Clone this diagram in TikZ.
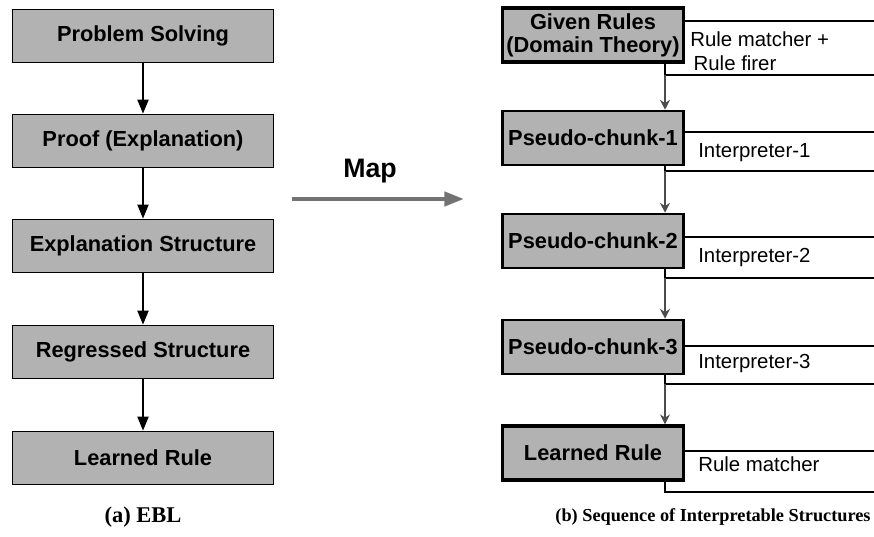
\documentclass[tikz,border=0pt]{standalone}
\usepackage{fontspec}
\setmainfont{Liberation Serif}
\setsansfont{Liberation Sans}
\usetikzlibrary{arrows.meta}

\begin{document}
\begin{tikzpicture}[x=0.025cm, y=-0.025cm,
		stage/.style={rectangle, draw=black, line width=1.3pt, fill=black!30, minimum width=261*0.025cm, minimum height=53*0.025cm, inner sep=0pt, align=center, font=\sffamily\bfseries\fontsize{15.5}{17}\selectfont},
		chunk/.style={rectangle, draw=black, line width=1.8pt, fill=black!30, minimum width=181*0.025cm, minimum height=54*0.025cm, inner sep=0pt, align=center, font=\sffamily\bfseries\fontsize{15.5}{16.5}\selectfont},
		flow/.style={-{Triangle[length=10pt, width=8pt]}, line width=1.1pt},
		step flow/.style={-{Stealth[length=7pt, width=7pt]}, line width=1.8pt, black!70},
		bracket/.style={line width=0.8pt},
		role/.style={anchor=west, align=left, inner sep=0pt, font=\sffamily\fontsize{14.5}{17}\selectfont},
		caption/.style={font=\bfseries\fontsize{13}{15}\selectfont}
		]
		\useasboundingbox (0,0) rectangle (874,537);
		
		% (a) EBL
		\node[stage] (ps) at (143,36) {Problem Solving};
		\node[stage] (proof) at (143,141) {Proof (Explanation)};
		\node[stage] (expl) at (143,246) {Explanation Structure};
		\node[stage] (regr) at (143,352) {Regressed Structure};
		\node[stage] (learnA) at (143,458) {Learned Rule};
		
		\draw[flow] (ps) -- (proof);
		\draw[flow] (proof) -- (expl);
		\draw[flow] (expl) -- (regr);
		\draw[flow] (regr) -- (learnA);
		
		\node[caption, font=\bfseries\fontsize{16}{18}\selectfont] (capA) at (143,517) {(a) EBL};
		
		% map arrow
		\coordinate (mapA) at (292,199);
		\coordinate (mapB) at (464,199);
		\draw[-{Triangle[length=14pt, width=10pt]}, line width=3pt, black!55] (mapA) -- (mapB);
		\node[font=\sffamily\bfseries\fontsize{19}{21}\selectfont] (map) at (370,171) {Map};
		
		% (b) interpretable structures
		\node[chunk, line width=2.4pt] (given) at (593,35) {Given Rules\\(Domain Theory)};
		\node[chunk] (pc1) at (593,138) {Pseudo-chunk-1};
		\node[chunk] (pc2) at (593,241) {Pseudo-chunk-2};
		\node[chunk] (pc3) at (593,347) {Pseudo-chunk-3};
		\node[chunk, line width=2.4pt] (learnB) at (593,453) {Learned Rule};
		
		\foreach \n/\t/\b in {given/21/75, pc1/132/171, pc2/237/278, pc3/346/384, learnB/451/492} {
			\draw[bracket] (\n.east |- 0,\t) -- (874,\t);
			\draw[bracket] (665,0 |- \n.south) -- (665,\b) -- (874,\b);
			\coordinate (\n-out) at (665,\b);
		}
		
		\foreach \a/\b in {given/pc1, pc1/pc2, pc2/pc3, pc3/learnB} {
			\draw[step flow] (\a-out) -- (\b.north -| \a-out);
		}
		
		\node[role] (r0) at (690,51) {Rule matcher +\\\,Rule firer};
		\node[role] (r1) at (698,153) {Interpreter-1};
		\node[role] (r2) at (698,257) {Interpreter-2};
		\node[role] (r3) at (698,363) {Interpreter-3};
		\node[role] (r4) at (698,464) {Rule matcher};
		
		\node[caption] (capB) at (713,517) {(b) Sequence of Interpretable Structures};
		
	\end{tikzpicture}
\end{document}
